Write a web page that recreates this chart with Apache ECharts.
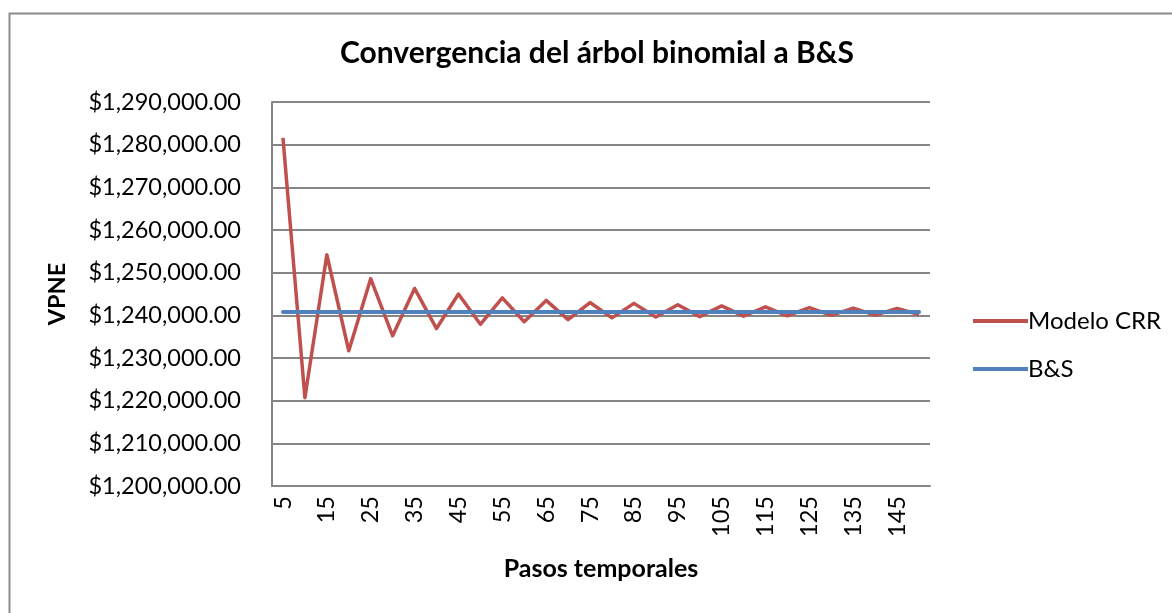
<!DOCTYPE html>
<html>
<head>
<meta charset="utf-8">
<script src="https://cdn.jsdelivr.net/npm/echarts@6/dist/echarts.min.js"></script>
<style>
  html, body { margin: 0; padding: 0; background: #fff; }
  #chart { width: 1172px; height: 613px; }
</style>
</head>
<body>
<div id="chart"></div>
<script>
// Time steps of the binomial tree
const steps = [5, 10, 15, 20, 25, 30, 35, 40, 45, 50, 55, 60, 65, 70, 75,
               80, 85, 90, 95, 100, 105, 110, 115, 120, 125, 130, 135, 140, 145, 150];

// CRR binomial tree value for each number of steps
const crrValues = [
  1281600, 1220700, 1254200, 1231700, 1248600, 1235200, 1246300, 1236900,
  1245000, 1237900, 1244100, 1238500, 1243500, 1239000, 1243000, 1239400,
  1242800, 1239600, 1242500, 1239700, 1242200, 1239800, 1242000, 1239900,
  1241800, 1240000, 1241700, 1240050, 1241600, 1240200
];

// Black & Scholes closed-form value (constant reference)
const bsValue = 1240800;
const bsValues = steps.map(() => bsValue);

// Y axis range
const yMin = 1200000;
const yMax = 1290000;
const yStep = 10000;

const FONT = 'Lato';

function money(v) {
  return '$' + Math.round(v).toString().replace(/\B(?=(\d{3})+(?!\d))/g, ',') + '.00';
}

const chart = echarts.init(document.getElementById('chart'), null, { renderer: 'canvas' });

chart.setOption({
  backgroundColor: '#ffffff',
  animation: false,
  textStyle: { fontFamily: FONT, color: '#000' },
  graphic: [{
    type: 'rect',
    left: 7, top: 11,
    shape: { width: 1300, height: 800 },
    style: { fill: 'none', stroke: '#8c8c8c', lineWidth: 2 },
    silent: true
  }],
  title: {
    text: 'Convergencia del árbol binomial a B&S',
    left: 335,
    top: 33,
    textStyle: { fontFamily: FONT, fontWeight: 'bold', fontSize: 30, color: '#000' }
  },
  legend: {
    orient: 'vertical',
    left: 968,
    top: 304,
    icon: 'rect',
    itemWidth: 55,
    itemHeight: 4,
    itemGap: 24,
    textStyle: { fontFamily: FONT, fontSize: 24, color: '#000', padding: [0, 0, 0, -5] },
    data: ['Modelo CRR', 'B&S']
  },
  grid: { left: 272, right: 242, top: 102, bottom: 127 },
  xAxis: {
    type: 'category',
    data: steps,
    boundaryGap: true,
    name: 'Pasos temporales',
    nameLocation: 'middle',
    nameGap: 70,
    nameTextStyle: { fontFamily: FONT, fontWeight: 'bold', fontSize: 25, color: '#000' },
    axisLine: { lineStyle: { color: '#868686', width: 2 } },
    axisTick: { show: false },
    axisLabel: {
      interval: 1,
      rotate: 90,
      margin: 10,
      fontFamily: FONT,
      fontSize: 23.5,
      color: '#000'
    }
  },
  yAxis: {
    type: 'value',
    min: yMin,
    max: yMax,
    interval: yStep,
    name: 'VPNE',
    nameLocation: 'middle',
    nameGap: 203,
    nameTextStyle: { fontFamily: FONT, fontWeight: 'bold', fontSize: 23.5, color: '#000' },
    axisLine: { show: true, lineStyle: { color: '#868686', width: 2 } },
    axisTick: { show: false },
    splitLine: { lineStyle: { color: '#868686', width: 2 } },
    axisLabel: {
      margin: 31,
      fontFamily: FONT,
      fontSize: 23.5,
      color: '#000',
      formatter: money
    }
  },
  series: [
    {
      name: 'Modelo CRR',
      type: 'line',
      data: crrValues,
      showSymbol: false,
      symbol: 'none',
      color: '#C0504D',
      lineStyle: { color: '#C0504D', width: 3.5, join: 'round' }
    },
    {
      name: 'B&S',
      type: 'line',
      data: bsValues,
      showSymbol: false,
      symbol: 'none',
      color: '#4F81BD',
      lineStyle: { color: '#4F81BD', width: 4, cap: 'round' }
    }
  ]
});
</script>
</body>
</html>
